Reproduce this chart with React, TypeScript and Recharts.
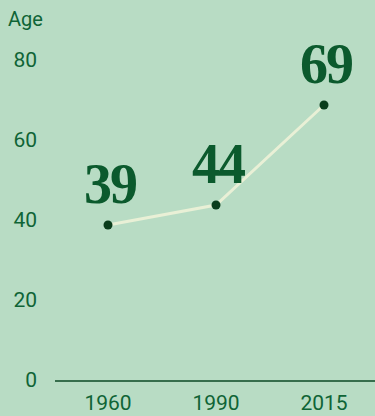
import React from 'react';
import { LineChart, Line, XAxis, YAxis, LabelList, Label } from 'recharts';

// Median age by year
const years = ['1960', '1990', '2015'];
const ages = [39, 44, 69];
const yTicks = [0, 20, 40, 60, 80];

const data = years.map((year, i) => ({ year, age: ages[i] }));

const BG = '#b8dcc4';
const TEXT = '#0f6436';
const LABEL = '#0b5a2d';
const DOT = '#0a3d1c';
const LINE = '#e9f0d6';
const AXIS = '#0d4a26';
const SANS = 'Roboto, "Liberation Sans", sans-serif';
const SERIF = '"Liberation Serif", "Times New Roman", serif';

const YTick = (props: any) => {
  const { y, payload } = props;
  return (
    <text x={37} y={y + 6} textAnchor="end" fill={TEXT} fontFamily={SANS} fontSize={21}>
      {payload.value}
    </text>
  );
};

const XTick = (props: any) => {
  const { x, y, payload } = props;
  return (
    <text x={x} y={y + 29} textAnchor="middle" fill={TEXT} fontFamily={SANS} fontSize={21}>
      {payload.value}
    </text>
  );
};

const ValueLabel = (props: any) => {
  const { x, y, value } = props;
  return (
    <text
      x={x + 2}
      y={y - 22}
      textAnchor="middle"
      fill={LABEL}
      fontFamily={SERIF}
      fontWeight={700}
      fontSize={56}
      letterSpacing={-2}
    >
      {value}
    </text>
  );
};

const AxisTitle = () => (
  <text x={8} y={26} fill={TEXT} fontFamily={SANS} fontSize={20}>
    Age
  </text>
);

export default function App() {
  return (
    <div style={{ position: 'absolute', left: 0, top: 0, width: 375, height: 416, background: BG }}>
      <LineChart
        width={375}
        height={416}
        data={data}
        margin={{ top: 61, right: 0, bottom: 0, left: 0 }}
      >
        <XAxis
          dataKey="year"
          height={35}
          tickLine={false}
          tickSize={0}
          tickMargin={0}
          padding={{ left: 53, right: 51 }}
          axisLine={{ stroke: AXIS, strokeWidth: 1.5 }}
          tick={<XTick />}
        />
        <YAxis
          width={55}
          domain={[0, 80]}
          ticks={yTicks}
          axisLine={false}
          tickLine={false}
          tick={<YTick />}
        >
          <Label content={<AxisTitle />} />
        </YAxis>
        <Line
          dataKey="age"
          stroke={LINE}
          strokeWidth={3}
          dot={{ r: 4.5, fill: DOT, stroke: 'none' }}
          activeDot={false}
          isAnimationActive={false}
        >
          <LabelList dataKey="age" content={<ValueLabel />} />
        </Line>
      </LineChart>
    </div>
  );
}
